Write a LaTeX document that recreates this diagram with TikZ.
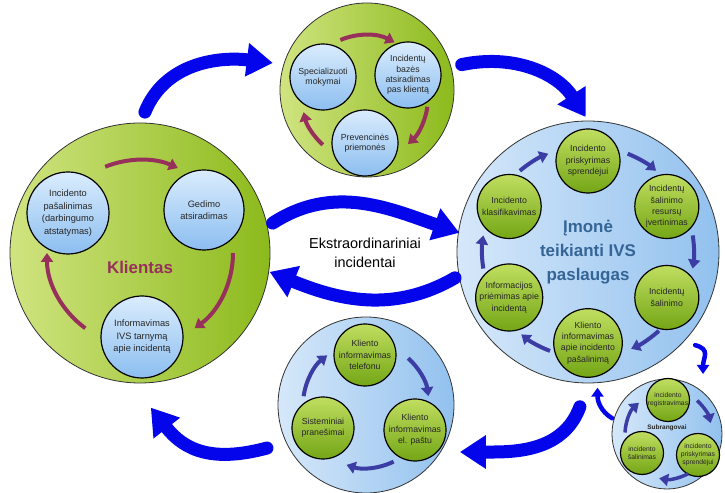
\documentclass[tikz,border=0pt]{standalone}
\usepackage{fontspec}
\setmainfont{Liberation Sans}
\usetikzlibrary{arrows.meta,calc}
\definecolor{grnlt}{RGB}{208,228,128}
\definecolor{grndk}{RGB}{140,186,28}
\definecolor{blult}{RGB}{214,232,250}
\definecolor{bludk}{RGB}{146,193,238}
\definecolor{gblt}{RGB}{192,222,96}
\definecolor{gbdk}{RGB}{116,166,22}
\definecolor{bblt}{RGB}{218,236,253}
\definecolor{bbdk}{RGB}{140,190,240}
\definecolor{arrblue}{RGB}{5,5,235}
\definecolor{maroon}{RGB}{152,48,92}
\definecolor{indigo}{RGB}{60,60,165}
\definecolor{imonetxt}{RGB}{52,101,150}

\begin{document}
\begin{tikzpicture}[x=1bp,y=1bp,
  bigcirc/.style={circle,draw=black!80,line width=0.8bp,inner sep=0pt},
  greenbig/.style={bigcirc,left color=grnlt,right color=grndk},
  bluebig/.style={bigcirc,left color=blult,right color=bludk},
  bub/.style={circle,draw=black,line width=1.2bp,inner sep=0pt,align=center,text=black!85},
  bbub/.style={bub,top color=bblt,bottom color=bbdk},
  gbub/.style={bub,top color=gblt,bottom color=gbdk},
  bigarr/.style={draw=arrblue,line width=13bp,line cap=round,-{Triangle[length=26bp,width=32bp]}},
  smallarr/.style={draw=arrblue,line width=4.5bp,line cap=round,-{Triangle[length=9bp,width=12bp]}},
  marr/.style={draw=maroon,line width=4bp,-{Triangle[length=9bp,width=12bp]}},
  iarr/.style={draw=indigo,line width=4bp,-{Triangle[length=9bp,width=12bp]}}
]
\useasboundingbox (0,0) rectangle (725,493);

% big circles
\node[greenbig,minimum size=260bp] (klient) at (140,240) {};
\node[greenbig,minimum size=174bp] (mokym) at (367,403) {};
\node[bluebig,minimum size=262bp] (imone) at (588,241) {};
\node[bluebig,minimum size=176bp] (inform) at (366,88) {};
\node[bluebig,minimum size=110bp] (subrang) at (667,59) {};

% klientas
\node[font=\fontsize{17}{20}\selectfont\bfseries,text=maroon] (kltxt) at (140,226) {Klientas};
\node[bbub,minimum size=82bp,font=\fontsize{9.3}{12.5}\selectfont] (kPasal) at (68,280)
  {Incidento\\pašalinimas\\(darbingumo\\atstatymas)};
\node[bbub,minimum size=80bp,font=\fontsize{9.3}{12.5}\selectfont] (kGedim) at (204,283)
  {Gedimo\\atsiradimas};
\node[bbub,minimum size=82bp,font=\fontsize{9.3}{12.5}\selectfont] (kInform) at (142,156)
  {Informavimas\\IVS tarnymą\\apie incidentą};
\draw[marr] ($(klient.center)+(112:93)$) arc[start angle=112,end angle=66,radius=93bp];
\draw[marr] ($(klient.center)+(0:93)$) arc[start angle=0,end angle=-54,radius=93bp];
\draw[marr] ($(klient.center)+(-126:93)$) arc[start angle=-126,end angle=-180,radius=93bp];

% mokymai
\node[bbub,minimum size=66bp,font=\fontsize{8.8}{10.5}\selectfont] (mSpec) at (323,416)
  {Specializuoti\\mokymai};
\node[bbub,minimum size=66bp,font=\fontsize{8.8}{10.5}\selectfont] (mBaze) at (408,418)
  {Incidentų\\bazės\\atsiradimas\\pas klientą};
\node[bbub,minimum size=66bp,font=\fontsize{8.8}{10.5}\selectfont] (mPrev) at (365,350)
  {Prevencinės\\priemonės};
\coordinate (mring) at (365,395);
\draw[marr] ($(mring)+(113:63)$) arc[start angle=113,end angle=62,radius=63bp];
\draw[marr] ($(mring)+(-8:63)$) arc[start angle=-8,end angle=-47,radius=63bp];
\draw[marr] ($(mring)+(-132:63)$) arc[start angle=-132,end angle=-167,radius=63bp];

% imone
\node[font=\fontsize{17}{24}\selectfont\bfseries,text=imonetxt,align=center] (imtxt) at (588,241)
  {Įmonė\\teikianti IVS\\paslaugas};
\foreach \n/\a/\t in {iPrisk/90/{Incidento\\priskyrimas\\sprendėjui},
    iResurs/30/{Incidentų\\šalinimo\\resursų\\įvertinimas},
    iSalin/-30/{Incidentų\\šalinimo},
    iKlInf/-90/{Kliento\\informavimas\\apie incidento\\pašalinimą},
    iPriem/-150/{Informacijos\\priėmimas apie\\incidentą},
    iKlasif/150/{Incidento\\klasifikavimas}}{
  \node[gbub,minimum size=64bp,font=\fontsize{8.8}{11.5}\selectfont] (\n) at ($(imone.center)+(\a:91)$) {\t};
}
\foreach \a [evaluate=\a as \s using \a+9, evaluate=\a as \e using \a-9] in {59,0,-57,-120,180,121}{
  \draw[iarr] ($(imone.center)+(\s:106)$) arc[start angle=\s,end angle=\e,radius=106bp];
}

% informavimas
\node[gbub,minimum size=62bp,font=\fontsize{8.8}{11.5}\selectfont] (tTel) at (365,138)
  {Kliento\\informavimas\\telefonu};
\node[gbub,minimum size=62bp,font=\fontsize{8.8}{11.5}\selectfont] (tPast) at (415,63)
  {Kliento\\informavimas\\el. paštu};
\node[gbub,minimum size=62bp,font=\fontsize{8.8}{11.5}\selectfont] (tSist) at (323,65)
  {Sisteminiai\\pranešimai};
\draw[iarr] ($(inform.center)+(48:63)$) arc[start angle=48,end angle=8,radius=63bp];
\draw[iarr] ($(inform.center)+(-64:63)$) arc[start angle=-64,end angle=-108,radius=63bp];
\draw[iarr] ($(inform.center)+(172:63)$) arc[start angle=172,end angle=128,radius=63bp];

% subrangovai
\node[font=\fontsize{6.5}{8}\selectfont\bfseries,text=black!85] (sbtxt) at (667,65) {Subrangovai};
\node[gbub,minimum size=43bp,font=\fontsize{6.8}{8}\selectfont] (sReg) at (668,93)
  {incidento\\registravimas};
\node[gbub,minimum size=43bp,font=\fontsize{6.8}{8}\selectfont] (sPrisk) at (698,38)
  {incidento\\priskyrimas\\sprendėjui};
\node[gbub,minimum size=43bp,font=\fontsize{6.8}{8}\selectfont] (sSal) at (642,40)
  {incidento\\šalinimas};
\draw[iarr,line width=3.5bp] ($(subrang.center)+(48:45)$) arc[start angle=48,end angle=14,radius=45bp];
\draw[iarr,line width=3.5bp] ($(subrang.center)+(-62:45)$) arc[start angle=-62,end angle=-100,radius=45bp];
\draw[iarr,line width=3.5bp] ($(subrang.center)+(178:42)$) arc[start angle=178,end angle=132,radius=42bp];

% big arrows between circles
\draw[bigarr] ($(klient.center)+(88:141)$) to[out=68,in=173] ($(mokym.center)+(164:98)$);
\draw[bigarr] ($(mokym.center)+(15:98)$) to[out=12,in=123] ($(imone.center)+(91:135)$);
\draw[bigarr] ($(klient.center)+(12.7:136)$) to[out=33,in=161] ($(imone.center)+(171.5:130)$);
\draw[bigarr] ($(imone.center)+(191:135.5)$) to[out=210,in=-22] ($(klient.center)+(-8.3:131)$);
\draw[bigarr] ($(imone.center)+(-93:155)$) to[out=-110,in=0] ($(inform.center)+(-26.6:105)$);
\draw[bigarr] ($(inform.center)+(203.5:108)$) to[out=195,in=-52,looseness=1.15] ($(klient.center)+(-86:155)$);
\draw[smallarr] ($(imone.center)+(-41:142)$) to[out=-15,in=90,looseness=1.4] ($(subrang.center)+(59:70)$);
\draw[smallarr] ($(subrang.center)+(164:57)$) to[out=150,in=-90] ($(imone.center)+(-86:136)$);

\node[font=\fontsize{14.5}{19}\selectfont,align=center] (ekstra) at (365,240)
  {Ekstraordinariniai\\incidentai};

\end{tikzpicture}
\end{document}
